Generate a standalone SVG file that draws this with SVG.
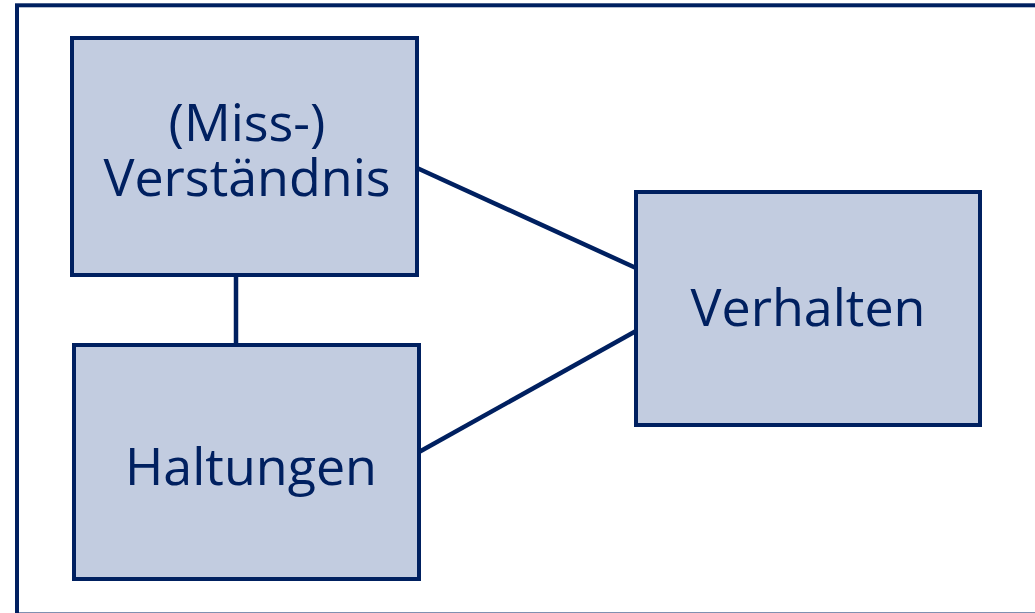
<svg xmlns="http://www.w3.org/2000/svg" width="1035" height="613" viewBox="0 0 1035 613">
  <style>
    .box { fill: #C2CCE0; stroke: #002060; stroke-width: 4; }
    .lbl { font-family: "Open Sans", "Noto Sans", "DejaVu Sans", sans-serif; font-size: 52px; fill: #002060; text-anchor: middle; }
    .conn { stroke: #002060; stroke-width: 4.5; fill: none; }
  </style>
  <rect x="0" y="0" width="1035" height="613" fill="#FFFFFF"/>
  <rect id="frame" x="17" y="5.3" width="1030" height="609.2" fill="none" stroke="#002060" stroke-width="4"/>
  <g id="connectors">
    <line class="conn" x1="236" y1="275" x2="236" y2="345"/>
    <line class="conn" x1="417" y1="168" x2="636" y2="268"/>
    <line class="conn" x1="419" y1="452" x2="636" y2="331"/>
  </g>
  <g id="node-verstaendnis">
    <rect class="box" x="72" y="38" width="345" height="237"/>
    <text class="lbl" x="247" y="141">(Miss-)</text>
    <text class="lbl" x="247" y="196">Verständnis</text>
  </g>
  <g id="node-haltungen">
    <rect class="box" x="74" y="345" width="345" height="234"/>
    <text class="lbl" x="251" y="485">Haltungen</text>
  </g>
  <g id="node-verhalten">
    <rect class="box" x="636" y="192" width="344" height="233"/>
    <text class="lbl" x="808" y="326">Verhalten</text>
  </g>
</svg>
